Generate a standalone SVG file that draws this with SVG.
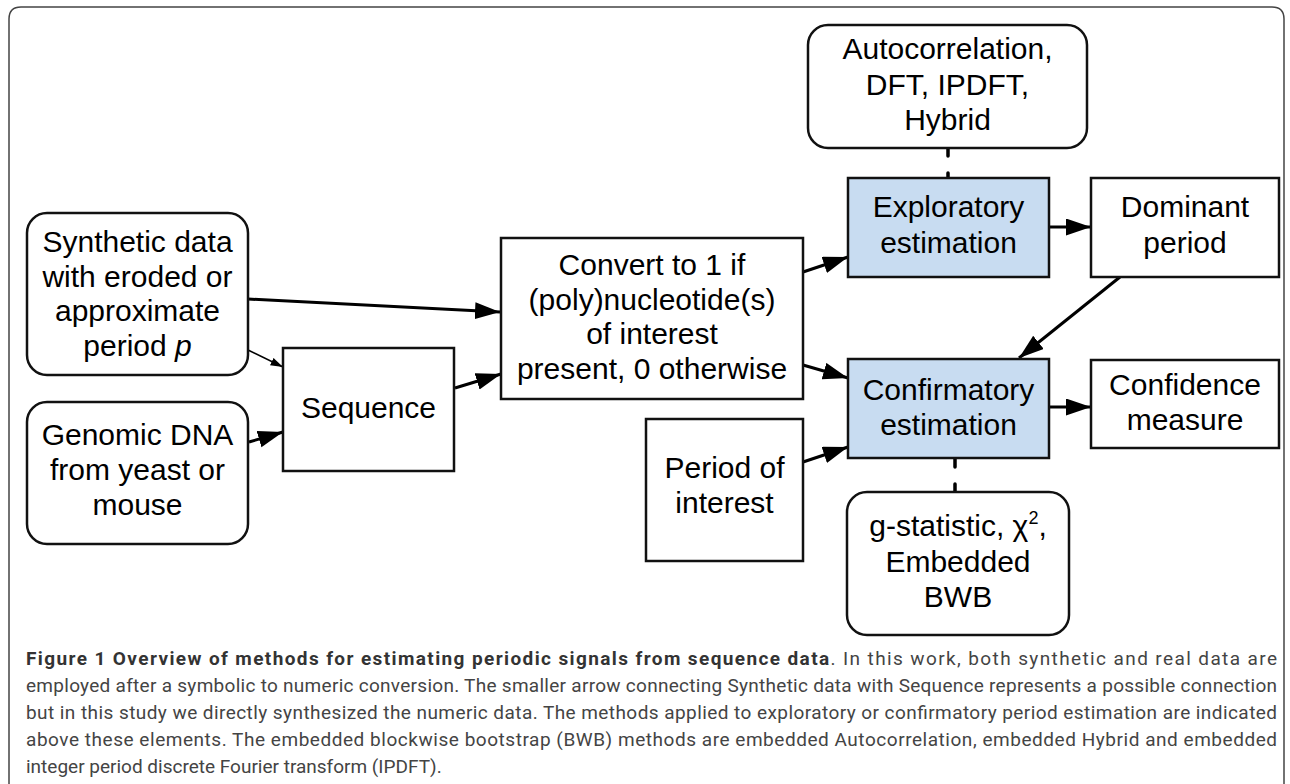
<svg xmlns="http://www.w3.org/2000/svg" width="1290" height="784" viewBox="0 0 1290 784">
<defs>
<style>
.box{fill:#ffffff;stroke:#111111;stroke-width:2.5}
.blue{fill:#c8dcf1;stroke:#111111;stroke-width:2.5}
.lbl{font-family:"Liberation Sans",Arial,Helvetica,sans-serif;font-size:30px;fill:#000000;text-anchor:middle}
.con{fill:none;stroke:#000000;stroke-width:3}
.thin{fill:none;stroke:#000000;stroke-width:1.5}
.dash{fill:none;stroke:#000000;stroke-width:3.5;stroke-linecap:round}
.cap{font-family:Roboto,"Liberation Sans",sans-serif;font-size:19px;fill:#444444}
.capb{font-weight:bold;fill:#333333}
</style>
<marker id="ah" markerUnits="userSpaceOnUse" markerWidth="26" markerHeight="18" refX="25" refY="8.5" orient="auto">
<path d="M0,0 L25,8.5 L0,17 z" fill="#000000"/>
</marker>
<marker id="ahs" markerUnits="userSpaceOnUse" markerWidth="13" markerHeight="9" refX="12.5" refY="4" orient="auto">
<path d="M0,0 L12.5,4 L0,8 z" fill="#000000"/>
</marker>
</defs>
<rect width="1290" height="784" fill="#ffffff"/>
<path d="M9,784 L9,19 Q9,7 21,7 L1272,7 Q1284,7 1284,19 L1284,784" fill="none" stroke="#444444" stroke-width="1.5"/>

<g id="connectors">
<path class="con" d="M248,299 L500,312" marker-end="url(#ah)"/>
<path class="thin" d="M248,350 L283,367" marker-end="url(#ahs)"/>
<path class="con" d="M249,442 L283,432" marker-end="url(#ah)"/>
<path class="con" d="M455,388 L501,374" marker-end="url(#ah)"/>
<path class="con" d="M803,272 L848,257" marker-end="url(#ah)"/>
<path class="con" d="M803,365 L848,378" marker-end="url(#ah)"/>
<path class="con" d="M803,462 L848,447" marker-end="url(#ah)"/>
<path class="con" d="M1049,227 L1091,227" marker-end="url(#ah)"/>
<path class="con" d="M1120,277 L1019,358" marker-end="url(#ah)"/>
<path class="con" d="M1049,407 L1091,407" marker-end="url(#ah)"/>
<path class="dash" d="M948,149 L948,178" stroke-dasharray="7 17"/>
<path class="dash" d="M955,459 L955,493" stroke-dasharray="8 17"/>
</g>

<g id="synthetic">
<rect class="box" x="27" y="213" width="221" height="162" rx="20"/>
<text class="lbl" x="137.5" y="252">Synthetic data</text>
<text class="lbl" x="137.5" y="287">with eroded or</text>
<text class="lbl" x="137.5" y="321">approximate</text>
<text class="lbl" x="137.5" y="356">period <tspan font-style="italic">p</tspan></text>
</g>

<g id="genomic">
<rect class="box" x="27" y="402" width="221" height="142" rx="20"/>
<text class="lbl" x="137.5" y="445">Genomic DNA</text>
<text class="lbl" x="137.5" y="480">from yeast or</text>
<text class="lbl" x="137.5" y="515">mouse</text>
</g>

<g id="sequence">
<rect class="box" x="283" y="348" width="171" height="123"/>
<text class="lbl" x="368.5" y="418">Sequence</text>
</g>

<g id="convert">
<rect class="box" x="501" y="238" width="302" height="161"/>
<text class="lbl" x="652" y="275">Convert to 1 if</text>
<text class="lbl" x="652" y="310">(poly)nucleotide(s)</text>
<text class="lbl" x="652" y="344">of interest</text>
<text class="lbl" x="652" y="379">present, 0 otherwise</text>
</g>

<g id="methods-exploratory">
<rect class="box" x="808" y="25" width="279" height="123" rx="20"/>
<text class="lbl" x="947.5" y="59">Autocorrelation,</text>
<text class="lbl" x="947.5" y="95">DFT, IPDFT,</text>
<text class="lbl" x="947.5" y="130">Hybrid</text>
</g>

<g id="exploratory">
<rect class="blue" x="848" y="178" width="201" height="99"/>
<text class="lbl" x="948.5" y="217">Exploratory</text>
<text class="lbl" x="948.5" y="253">estimation</text>
</g>

<g id="dominant">
<rect class="box" x="1091" y="178" width="188" height="99"/>
<text class="lbl" x="1185" y="217">Dominant</text>
<text class="lbl" x="1185" y="253">period</text>
</g>

<g id="confirmatory">
<rect class="blue" x="848" y="359" width="201" height="99"/>
<text class="lbl" x="948.5" y="400">Confirmatory</text>
<text class="lbl" x="948.5" y="435">estimation</text>
</g>

<g id="confidence">
<rect class="box" x="1091" y="360" width="188" height="88"/>
<text class="lbl" x="1185" y="395">Confidence</text>
<text class="lbl" x="1185" y="430">measure</text>
</g>

<g id="period-of-interest">
<rect class="box" x="646" y="419" width="157" height="142"/>
<text class="lbl" x="724.5" y="478">Period of</text>
<text class="lbl" x="724.5" y="513">interest</text>
</g>

<g id="methods-confirmatory">
<rect class="box" x="847" y="492" width="222" height="143" rx="20"/>
<text class="lbl" x="958" y="536">g-statistic, χ<tspan font-size="18" dy="-12">2</tspan><tspan dy="12">,</tspan></text>
<text class="lbl" x="958" y="572">Embedded</text>
<text class="lbl" x="958" y="607">BWB</text>
</g>

<g id="caption">
<text class="cap" x="26" y="665" textLength="1251"><tspan class="capb">Figure 1 Overview of methods for estimating periodic signals from sequence data</tspan>. In this work, both synthetic and real data are</text>
<text class="cap" x="26" y="692" textLength="1251">employed after a symbolic to numeric conversion. The smaller arrow connecting Synthetic data with Sequence represents a possible connection</text>
<text class="cap" x="26" y="719" textLength="1251">but in this study we directly synthesized the numeric data. The methods applied to exploratory or confirmatory period estimation are indicated</text>
<text class="cap" x="26" y="746" textLength="1251">above these elements. The embedded blockwise bootstrap (BWB) methods are embedded Autocorrelation, embedded Hybrid and embedded</text>
<text class="cap" x="26" y="773">integer period discrete Fourier transform (IPDFT).</text>
</g>
</svg>
